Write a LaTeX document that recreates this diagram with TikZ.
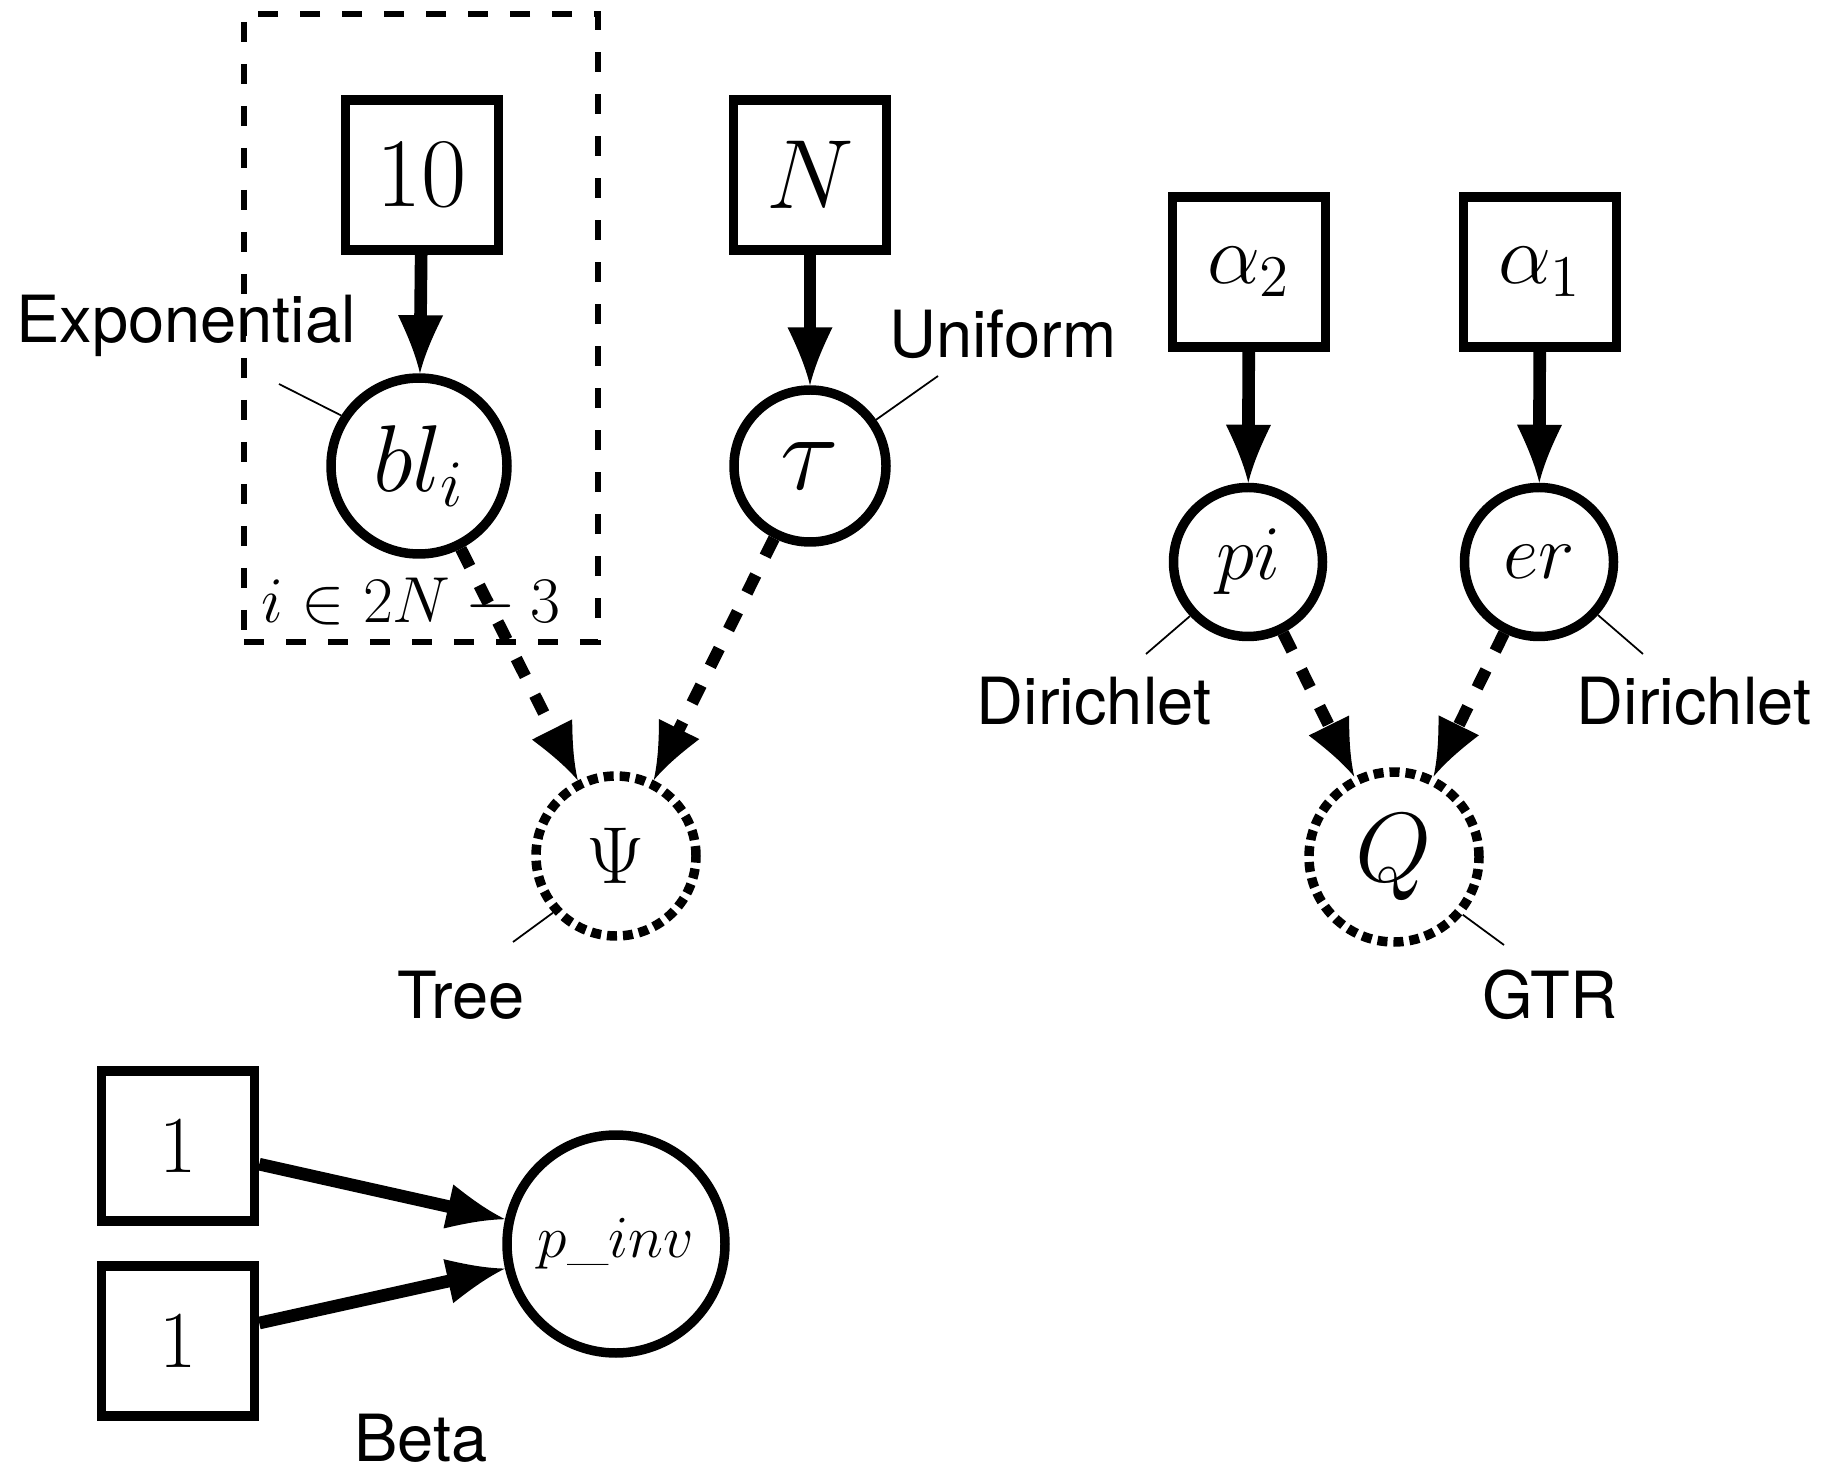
\RequirePackage{fix-cm}
\documentclass[tikz,border=0pt]{standalone}
\usepackage{fontspec}
\setsansfont{TeX Gyre Heros}
\usetikzlibrary{arrows.meta,shapes.geometric}
\pgfdeclarearrow{
  name = Cav,
  parameters = {\the\pgfarrowlength,\the\pgfarrowwidth},
  setup code = {
    \pgfarrowssettipend{0pt}
    \pgfarrowssetlineend{-0.6\pgfarrowlength}
    \pgfarrowssetbackend{-\pgfarrowlength}
    \pgfarrowssavethe\pgfarrowlength
    \pgfarrowssavethe\pgfarrowwidth
  },
  drawing code = {
    \pgfpathmoveto{\pgfpointorigin}
    \pgfpathcurveto{\pgfqpoint{-0.35\pgfarrowlength}{0.11\pgfarrowwidth}}{\pgfqpoint{-0.68\pgfarrowlength}{0.3\pgfarrowwidth}}{\pgfqpoint{-\pgfarrowlength}{0.5\pgfarrowwidth}}
    \pgfpathlineto{\pgfqpoint{-\pgfarrowlength}{-0.5\pgfarrowwidth}}
    \pgfpathcurveto{\pgfqpoint{-0.68\pgfarrowlength}{-0.3\pgfarrowwidth}}{\pgfqpoint{-0.35\pgfarrowlength}{-0.11\pgfarrowwidth}}{\pgfpointorigin}
    \pgfpathclose
    \pgfusepathqfill
  },
  defaults = {length=12pt, width=12pt}
}
\newcommand{\fsz}[1]{\fontsize{#1}{#1}\selectfont}
\tikzset{
  box/.style={draw, line width=2.7pt, minimum width=1.53cm, minimum height=1.50cm, inner sep=0pt},
  var/.style={draw, circle, line width=2.7pt, inner sep=0pt},
  det/.style={draw, circle, line width=2.7pt, dash pattern=on 0.1cm off 0.06cm, inner sep=0pt},
  lab/.style={font=\sffamily\fsz{18.5}, inner sep=0pt},
  pinline/.style={line width=0.5pt},
  solidarr/.style={line width=3.6pt, -{Cav[length=0.58cm,width=0.45cm]}},
  dasharr/.style={line width=3.4pt, dash pattern=on 0.2cm off 0.21cm, -{Cav[length=0.57cm,width=0.45cm]}},
  plate/.style={draw, line width=1.8pt, dash pattern=on 0.2cm off 0.22cm, inner sep=0pt}
}
\begin{document}
\begin{tikzpicture}
\useasboundingbox (0,0) rectangle (18.24,-14.67);
% plate
\node[plate, minimum width=3.54cm, minimum height=6.28cm] (plate) at (4.21,-3.28) {};
\node[font=\fsz{18.5}, inner sep=0pt] (platelab) at (4.11,-6.03) {$i \in 2N - 3$};
% left group
\node[box, font=\fsz{28}] (b10) at (4.22,-1.75) {$10$};
\node[var, minimum size=1.76cm, font=\fsz{27}] (bl) at (4.19,-4.66) {$bl_i$};
\node[box, font=\fsz{28}] (bN) at (8.10,-1.75) {$N$};
\node[var, minimum size=1.52cm, font=\fsz{31}] (tau) at (8.10,-4.66) {$\tau$};
\node[det, minimum size=1.6cm, font=\fsz{23}] (psi) at (6.16,-8.56) {$\Psi$};
% right group
\node[box, font=\fsz{24}] (ba2) at (12.49,-2.72) {$\alpha_2$};
\node[box, font=\fsz{24}] (ba1) at (15.40,-2.72) {$\alpha_1$};
\node[var, minimum size=1.49cm, font=\fsz{22}] (pi) at (12.48,-5.62) {$pi$};
\node[var, minimum size=1.49cm, font=\fsz{22}] (er) at (15.39,-5.62) {$er$};
\node[det, minimum size=1.7cm, font=\fsz{28}] (Q) at (13.94,-8.57) {$Q$};
% bottom group
\node[box, font=\fsz{23}] (one1) at (1.78,-11.46) {$1$};
\node[box, font=\fsz{23}] (one2) at (1.78,-13.41) {$1$};
\node[var, minimum size=2.18cm, font=\fsz{17}] (pinv) at (6.16,-12.44) {$p\_inv$};
% labels
\node[lab] (lexp) at (1.86,-3.26) {Exponential};
\node[lab] (lunif) at (10.03,-3.34) {Uniform};
\node[lab] (ltree) at (4.61,-9.95) {Tree};
\node[lab] (ldirl) at (10.94,-7.01) {Dirichlet};
\node[lab] (ldirr) at (16.94,-7.01) {Dirichlet};
\node[lab] (lgtr) at (15.50,-9.95) {GTR};
\node[lab] (lbeta) at (4.21,-14.38) {Beta};
% pin lines
\coordinate (pexp) at (2.79,-3.84);
\coordinate (punif) at (9.38,-3.76);
\coordinate (ptree) at (5.13,-9.42);
\coordinate (pdirl) at (11.46,-6.54);
\coordinate (pdirr) at (16.43,-6.54);
\coordinate (pgtr) at (15.04,-9.45);
\draw[pinline] (bl.147) -- (pexp);
\draw[pinline] (tau.35) -- (punif);
\draw[pinline] (psi.222) -- (ptree);
\draw[pinline] (pi.223) -- (pdirl);
\draw[pinline] (er.318) -- (pdirr);
\draw[pinline] (Q.320) -- (pgtr);
% arrows
\draw[solidarr] (b10) -- (bl);
\draw[solidarr] (bN) -- (tau);
\draw[solidarr] (ba2) -- (pi);
\draw[solidarr] (ba1) -- (er);
\draw[solidarr] (one1) -- (pinv);
\draw[solidarr] (one2) -- (pinv);
\draw[dasharr] (bl) -- (psi);
\draw[dasharr] (tau) -- (psi);
\draw[dasharr] (pi) -- (Q);
\draw[dasharr] (er) -- (Q);
\end{tikzpicture}
\end{document}
